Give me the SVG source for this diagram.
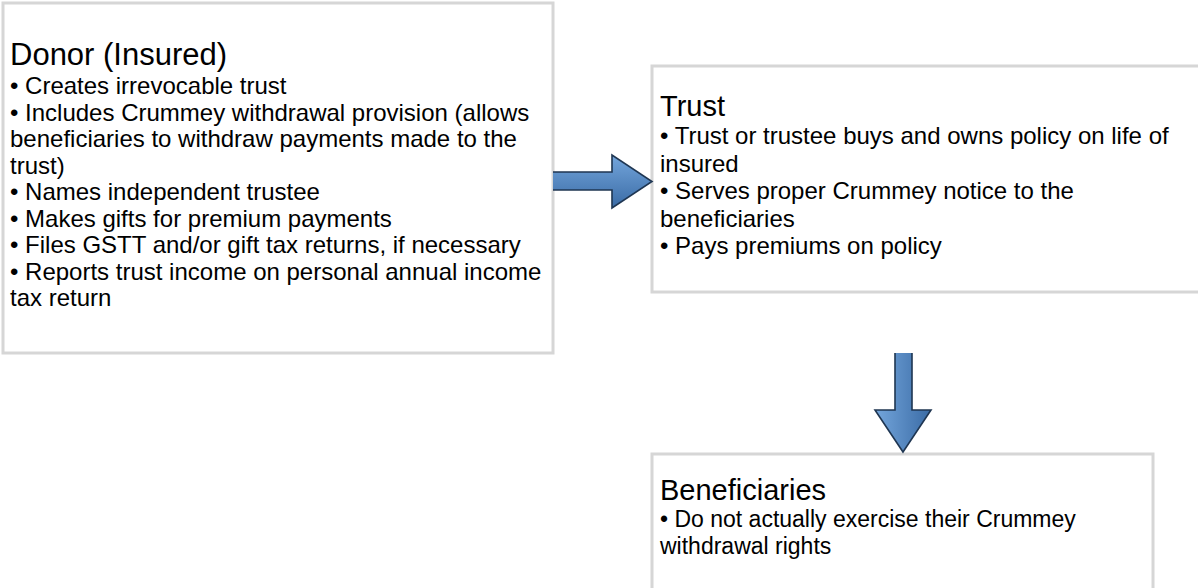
<svg xmlns="http://www.w3.org/2000/svg" width="1198" height="588" viewBox="0 0 1198 588">
  <defs>
    <linearGradient id="gH" x1="0" y1="0" x2="0" y2="1">
      <stop offset="0" stop-color="#74a6dc"/>
      <stop offset="1" stop-color="#3a6ba5"/>
    </linearGradient>
    <linearGradient id="gV" x1="0" y1="0" x2="1" y2="0">
      <stop offset="0" stop-color="#74a6dc"/>
      <stop offset="1" stop-color="#3a6ba5"/>
    </linearGradient>
  </defs>
  <style>
    .box { fill: #ffffff; stroke: #d6d6d6; stroke-width: 3; }
    text { font-family: "Liberation Sans", Arial, sans-serif; fill: #000; }
    .t1 { font-size: 31px; }
    .b1 { font-size: 24px; }
    .t2 { font-size: 29px; }
    .b2 { font-size: 24px; }
    .t3 { font-size: 29px; }
    .b3 { font-size: 23px; }
    .edge { fill: none; stroke: #1f3652; stroke-width: 1.6; stroke-linejoin: miter; }
  </style>
  <rect width="1198" height="588" fill="#ffffff"/>

  <g id="donor">
    <rect class="box" x="3" y="3" width="550" height="350"/>
    <text class="t1" x="10" y="65">Donor (Insured)</text>
    <text class="b1" x="10" y="94">• Creates irrevocable trust</text>
    <text class="b1" x="10" y="120.5">• Includes Crummey withdrawal provision (allows</text>
    <text class="b1" x="10" y="147">beneficiaries to withdraw payments made to the</text>
    <text class="b1" x="10" y="173.5">trust)</text>
    <text class="b1" x="10" y="200">• Names independent trustee</text>
    <text class="b1" x="10" y="226.5">• Makes gifts for premium payments</text>
    <text class="b1" x="10" y="253">• Files GSTT and/or gift tax returns, if necessary</text>
    <text class="b1" x="10" y="279.5">• Reports trust income on personal annual income</text>
    <text class="b1" x="10" y="306">tax return</text>
  </g>

  <g id="trust">
    <rect class="box" x="652" y="66" width="560" height="226"/>
    <text class="t2" x="660" y="116">Trust</text>
    <text class="b2" x="660" y="144">• Trust or trustee buys and owns policy on life of</text>
    <text class="b2" x="660" y="171.5">insured</text>
    <text class="b2" x="660" y="199">• Serves proper Crummey notice to the</text>
    <text class="b2" x="660" y="226.5">beneficiaries</text>
    <text class="b2" x="660" y="254">• Pays premiums on policy</text>
  </g>

  <g id="beneficiaries">
    <rect class="box" x="652" y="454" width="501" height="150"/>
    <text class="t3" x="660" y="500">Beneficiaries</text>
    <text class="b3" x="660" y="527">• Do not actually exercise their Crummey</text>
    <text class="b3" x="660" y="553.6">withdrawal rights</text>
  </g>

  <g id="connectors">
    <g id="arrow-donor-trust">
      <path d="M553,172 L612,172 L612,155 L652,181.5 L612,208 L612,190 L553,190 Z" fill="url(#gH)"/>
      <path class="edge" d="M553,172 L612,172 L612,155 L652,181.5 L612,208 L612,190 L553,190"/>
    </g>
    <g id="arrow-trust-beneficiaries">
      <path d="M895,353 L895,410 L875,410 L903,452 L931,410 L912,410 L912,353 Z" fill="url(#gV)"/>
      <path class="edge" d="M895,353 L895,410 L875,410 L903,452 L931,410 L912,410 L912,353"/>
    </g>
  </g>
</svg>
